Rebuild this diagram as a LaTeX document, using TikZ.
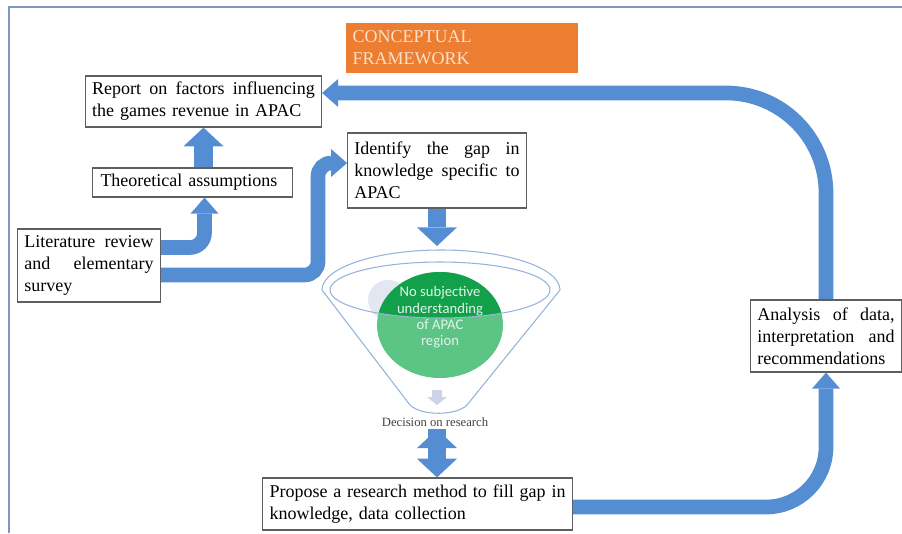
\documentclass[tikz,border=0pt]{standalone}
\usepackage{fontspec}
\setmainfont{Liberation Serif}
\newfontfamily\carlito{Carlito}
\usetikzlibrary{arrows.meta,positioning}
\pgfdeclarelayer{bg}
\pgfsetlayers{bg,main}
\definecolor{arrowblue}{RGB}{84,141,210}
\definecolor{boxgray}{RGB}{95,95,95}
\definecolor{framecol}{RGB}{125,152,190}
\definecolor{titleorange}{RGB}{237,125,49}
\definecolor{titletext}{RGB}{252,224,198}
\definecolor{funnelline}{RGB}{150,180,215}
\definecolor{darkgreen}{RGB}{18,160,75}
\definecolor{lightgreen}{RGB}{92,196,132}
\definecolor{ghost}{RGB}{226,231,242}
\definecolor{smallarrow}{RGB}{205,212,232}
\tikzset{
  box/.style={draw=boxgray,line width=0.9pt,fill=white,inner xsep=5pt,inner ysep=2pt,
    align=left,font=\fontsize{13.5}{16.5}\selectfont},
  blockarrow/.style={color=arrowblue,draw,line width=14pt,-{Triangle[width=30pt,length=14pt,line width=0pt]}},
  bendarrow/.style={color=arrowblue,draw,line width=11pt,-{Triangle[width=21pt,length=12pt,line width=0pt]}},
  funnel/.style={draw=funnelline,line width=0.8pt}
}

\begin{document}
\begin{tikzpicture}[x=0.75pt,y=-0.75pt]
\useasboundingbox (0,0) rectangle (902,533);
\draw[framecol,line width=0.8pt] (9,533) -- (9,7) -- (902,7);
% \draw[help lines] (0,0) grid (902,533);
\node (ttl) [box,draw=none,fill=titleorange,text=titletext,text width=164pt,minimum height=37.5pt] at (462,48) {CONCEPTUAL\\FRAMEWORK};
\node (rep) [box,text width=167pt,minimum height=38.25pt] at (203.5,101.5) {Report\hfill on\hfill factors\hfill influencing\\the games revenue in APAC};
\node (thr) [box,inner xsep=6pt,text width=138pt,minimum height=21.75pt] at (192.5,182.5) {Theoretical assumptions};
\node (lit) [box,text width=97pt,minimum height=54.75pt] at (89,265.5) {Literature\hfill review\\and\hfill elementary\\survey};
\node (ide) [box,text width=124pt,minimum height=56.25pt] at (437,170.5) {Identify\hfill the\hfill gap\hfill in\\knowledge\hfill specific\hfill to\\APAC};
\node (pro) [box,text width=222pt,minimum height=39pt] at (417.5,504) {Propose\hfill a\hfill research\hfill method\hfill to\hfill fill\hfill gap\hfill in\\knowledge, data collection};
\node (ana) [box,text width=103pt,minimum height=54pt] at (826,336) {Analysis\hfill of\hfill data,\\interpretation\hfill and\\recommendations};
%
% funnel
\fill[ghost] (388,300) circle [radius=20];
\fill[lightgreen] (440,325) ellipse [x radius=63,y radius=53];
\begin{scope}
\clip (440,290) ellipse [x radius=110,y radius=28];
\fill[darkgreen] (440,325) ellipse [x radius=63,y radius=53];
\end{scope}
\draw[funnel] (322,290) arc [start angle=180,end angle=360,x radius=119,y radius=40]
  -- (467,405) .. controls (456,416) and (421,416) .. (410,405) -- cycle;
\draw[funnel] (440,290) ellipse [x radius=110,y radius=28];
\node (gap) [font=\carlito\fontsize{11}{12.3}\selectfont,text=white!88!darkgreen,align=center] at (440,317.5) {No subjective\\understanding\\of APAC\\region};
\fill[smallarrow] (432,390) -- (442,390) -- (442,397) -- (447,397) -- (437,405) -- (427,397) -- (432,397) -- cycle;
\node (dec) [font=\fontsize{9.5}{11}\selectfont,text=black!75,inner sep=2pt] at (435,422) {Decision on research};
\coordinate (top) at (437,246);
\coordinate (kink) at (318,163);
%
\begin{pgfonlayer}{bg}
\path[blockarrow] (thr.north -| rep.south) edge (rep.south);
\path[blockarrow] (ide) edge (top);
\path[blockarrow] ([xshift=1.5pt]dec.south) edge ([xshift=1.5pt]dec.south |- pro.north);
\draw[bendarrow,rounded corners=11pt] ([yshift=13.5pt]lit.east) -| ([xshift=9pt]thr.south);
\draw[bendarrow,rounded corners=10pt] ([yshift=-7.1pt]lit.east) -| (kink) -- (kink -| ide.west);
\draw[bendarrow,rounded corners=45pt] ([yshift=-2.25pt]pro.east) -| (ana.south);
\draw[bendarrow,rounded corners=75pt] (ana.north) |- ([yshift=6.4pt]rep.east);
\end{pgfonlayer}
\end{tikzpicture}
\end{document}
